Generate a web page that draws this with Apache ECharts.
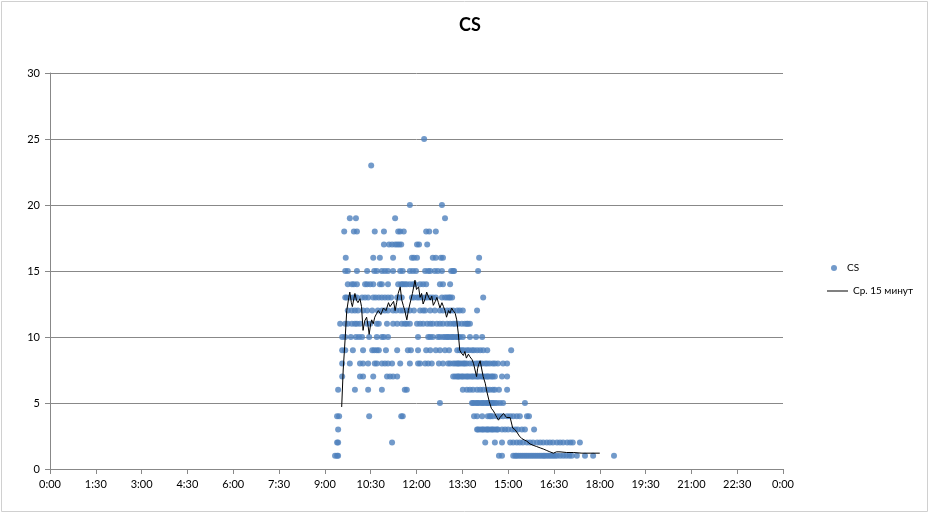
<!DOCTYPE html>
<html><head><meta charset="utf-8">
<script src="https://cdn.jsdelivr.net/npm/echarts@6/dist/echarts.min.js"></script>
<style>html,body{margin:0;padding:0;background:#fff}#c{width:930px;height:514px}</style>
</head><body><div id="c"></div>
<script>
// Scatter "CS": times (H:MM) at each integer value level
const t25 = ['12:15'];
const t23 = ['10:31'];
const t20 = ['11:47','12:50'];
const t19 = ['9:49','10:01','11:18','12:56'];
const t18 = ['9:38','9:57','10:03','10:38','10:56','11:24','11:28','11:35','12:19','12:25','12:38'];
const t17 = ['10:56','11:06','11:12','11:18','11:22','11:26','11:30','12:01','12:05','12:21'];
const t16 = ['9:41','10:35','10:48','11:14','11:51','11:55','12:01','12:32','12:38','12:48','12:52','14:03'];
const t15 = ['9:40','9:45','10:03','10:23','10:37','10:42','10:52','10:58','11:04','11:14','11:28','11:33','11:47','11:53','11:59','12:17','12:23','12:27','12:36','12:42','12:50','13:08','13:12','13:14','14:01'];
const t14 = ['9:45','9:53','9:57','10:03','10:19','10:23','10:29','10:35','10:48','10:52','11:04','11:24','11:30','11:33','11:37','11:41','11:47','11:53','11:57','12:07','12:13','12:19','12:46','12:52','13:06'];
const t13 = ['9:40','9:43','9:49','9:55','9:59','10:03','10:13','10:19','10:25','10:35','10:40','10:46','10:52','10:58','11:04','11:10','11:22','11:26','11:31','11:51','11:55','12:01','12:05','12:11','12:17','12:21','12:27','12:32','12:38','12:50','12:56','13:00','13:04','13:06','13:10','14:11'];
const t12 = ['9:45','9:53','9:59','10:05','10:15','10:23','10:33','10:44','10:52','10:58','11:04','11:14','11:20','11:28','11:33','11:41','11:47','11:55','12:07','12:13','12:17','12:27','12:36','12:46','12:52','13:00','13:06','13:12','13:20','13:25','13:31','13:59'];
const t11 = ['9:30','9:40','9:45','9:53','9:59','10:03','10:09','10:23','10:29','10:42','10:46','11:02','11:14','11:22','11:31','11:37','11:41','11:47','12:01','12:07','12:13','12:21','12:27','12:32','12:40','12:46','12:52','13:00','13:06','13:12','13:16','13:22','13:29','13:35','13:39','13:41','13:45'];
const t10 = ['9:34','9:40','9:51','10:01','10:07','10:13','10:27','10:42','10:52','10:56','11:04','12:03','12:23','12:27','12:32','12:42','12:46','12:52','12:56','13:00','13:02','13:06','13:10','13:12','13:16','13:20','13:22','13:25','13:31','13:45','13:57','14:09'];
const t9 = ['9:34','9:40','9:55','10:15','10:33','10:37','10:42','10:46','11:00','11:22','11:43','11:49','12:03','12:19','12:27','12:38','12:46','12:56','13:04','13:20','13:25','13:29','13:33','13:39','13:43','13:49','13:53','13:59','14:05','14:11','14:19','15:06'];
const t8 = ['9:34','9:49','10:09','10:15','10:25','10:38','10:42','10:52','10:58','11:04','11:12','11:28','11:47','12:03','12:07','12:17','12:23','12:30','12:44','12:52','13:02','13:06','13:12','13:16','13:20','13:22','13:25','13:29','13:33','13:35','13:39','13:45','13:51','13:57','14:01','14:05','14:09','14:15','14:19','14:24','14:30','14:34','14:40','14:50','14:58'];
const t7 = ['9:34','10:09','10:15','10:35','11:02','11:08','11:14','11:22','13:12','13:16','13:20','13:22','13:25','13:29','13:31','13:35','13:39','13:41','13:45','13:49','13:51','13:55','13:59','14:01','14:05','14:09','14:11','14:15','14:19','14:20','14:24','14:28','14:30','14:34','14:48','14:58'];
const t6 = ['9:26','9:59','10:25','10:52','11:37','11:41','13:31','13:39','13:45','13:51','13:59','14:05','14:11','14:19','14:24','14:30','14:34','14:42','14:58'];
const t5 = ['12:46','13:49','13:51','13:55','13:59','14:01','14:05','14:09','14:11','14:15','14:19','14:20','14:24','14:28','14:30','14:34','14:38','14:44','14:50','15:33'];
const t4 = ['9:24','9:28','10:27','11:30','11:33','13:53','13:59','14:09','14:20','14:24','14:26','14:30','14:38','14:44','14:50','14:58','15:04','15:10','15:17','15:23','15:37','15:41'];
const t3 = ['9:26','13:59','14:01','14:05','14:09','14:11','14:15','14:19','14:20','14:24','14:28','14:30','14:34','14:38','14:40','14:48','14:54','15:00','15:08','15:14','15:19','15:27','15:33','15:51'];
const t2 = ['9:24','9:26','11:12','14:15','14:34','14:48','15:04','15:10','15:17','15:23','15:29','15:37','15:43','15:49','15:57','16:03','16:09','16:16','16:22','16:28','16:36','16:42','16:48','16:56','17:02','17:07','17:21'];
const t1 = ['9:20','9:24','9:26','14:42','14:48','15:10','15:14','15:17','15:21','15:25','15:29','15:33','15:37','15:41','15:45','15:49','15:53','15:57','16:01','16:05','16:09','16:12','16:16','16:20','16:24','16:28','16:32','16:36','16:42','16:48','16:54','17:00','17:05','17:15','17:31','17:47','18:28'];
const levels = [1,2,3,4,5,6,7,8,9,10,11,12,13,14,15,16,17,18,19,20,23,25];
const levelTimes = [t1,t2,t3,t4,t5,t6,t7,t8,t9,t10,t11,t12,t13,t14,t15,t16,t17,t18,t19,t20,t23,t25];

// 15-minute moving average line
const avgTimes = ['9:33','9:36','9:40','9:43','9:47','9:49','9:52','9:54','9:57','9:59','10:02','10:05','10:09','10:12','10:15','10:18','10:22','10:25','10:27','10:30','10:32','10:35','10:38','10:42','10:45','10:50','10:55','11:00','11:05','11:08','11:11','11:15','11:18','11:21','11:24','11:28','11:31','11:34','11:37','11:41','11:44','11:47','11:52','11:57','12:00','12:04','12:07','12:10','12:13','12:17','12:20','12:24','12:27','12:30','12:33','12:37','12:40','12:43','12:46','12:50','12:53','12:56','12:59','13:03','13:06','13:09','13:12','13:16','13:19','13:22','13:25','13:28','13:32','13:35','13:38','13:42','13:45','13:49','13:52','13:55','13:58','14:00','14:02','14:05','14:08','14:11','14:15','14:18','14:23','14:27','14:31','14:34','14:38','14:41','14:44','14:47','14:51','14:54','14:57','15:00','15:04','15:09','15:13','15:17','15:22','15:27','15:32','15:37','15:43','15:49','15:56','16:03','16:10','16:16','16:22','16:29','16:35','16:42','16:55','17:08','17:25','17:41','18:00','18:25'];
const avgValues = [4.7,7.5,10,12,13.0,13.4,12.6,12.3,12.9,13.3,12.8,12.6,12.9,12.3,10.5,11.2,11.5,10.8,10.2,11.0,11.3,11.0,11.5,11.8,12,11.7,12.2,12.0,12.6,12.3,12.4,12.7,12,12.6,13.3,13.8,12.8,12.4,12,11.3,12.0,12.5,13.3,14.3,13.6,13.8,13,13.3,12.5,12.9,13.4,13.0,12.8,13.1,12.4,12.7,13,12.6,12.2,12.6,12.3,12.0,11.5,12.0,11.8,12.2,12,11.8,11.3,10.3,9,8.8,8.6,8.9,8.4,8.7,8.5,8.3,8,7.5,7,7.6,7.9,8.2,8.1,7,6.5,5.9,5.1,4.6,4.4,4.2,3.9,3.7,3.9,4,4.2,4.1,3.9,4,3.9,3.1,3.0,2.8,2.5,2.3,2.2,2.1,1.9,1.8,1.7,1.6,1.5,1.4,1.3,1.2,1.3,1.3,1.25,1.25,1.2,1.2,1.2];

const xTickStep = 90; // minutes (1:30)
const yTickStep = 5;

function toMin(s){const p=s.split(':');return (+p[0])*60+(+p[1]);}
function fmt(m){m=m%1440;const h=Math.floor(m/60),mm=m%60;return h+':'+(mm<10?'0':'')+mm;}

const scatterData=[];
levels.forEach((v,i)=>levelTimes[i].forEach(t=>scatterData.push([toMin(t),v])));
const lineData=avgTimes.map((t,i)=>[toMin(t),avgValues[i]]);

const FONT='Lato';
const chart=echarts.init(document.getElementById('c'),null,{renderer:'canvas'});
chart.setOption({
  animation:false,
  backgroundColor:'#fff',
  title:{text:'CS',left:465,top:11,textAlign:'center',textStyle:{fontFamily:FONT,fontSize:18,fontWeight:'bold',color:'#000'}},
  graphic:[{type:'rect',shape:{x:1.5,y:1.5,width:926,height:510},style:{fill:'none',stroke:'#d0d0d0',lineWidth:1},silent:true}],
  legend:[
    {left:826,top:258,itemWidth:16,itemHeight:6,itemGap:5,
     textStyle:{fontFamily:FONT,fontSize:10,color:'#000'},
     data:[{name:'CS',icon:'circle'}]},
    {left:822,top:281,itemWidth:21,itemHeight:1,
     textStyle:{fontFamily:FONT,fontSize:10,color:'#000'},
     data:[{name:'Ср. 15 минут',icon:'rect',itemStyle:{color:'#000'}}]}
  ],
  grid:{left:50,right:147,top:73,bottom:45,containLabel:false},
  xAxis:{type:'value',min:0,max:1440,interval:xTickStep,
    axisLine:{show:true,lineStyle:{color:'#888',width:1}},
    axisTick:{show:true,length:5,lineStyle:{color:'#888'}},
    splitLine:{show:false},
    axisLabel:{formatter:v=>fmt(v),fontFamily:FONT,fontSize:11,color:'#000',margin:10}},
  yAxis:{type:'value',min:0,max:30,interval:yTickStep,
    axisLine:{show:true,lineStyle:{color:'#888',width:1}},
    axisTick:{show:true,length:5,lineStyle:{color:'#888'}},
    splitLine:{show:true,lineStyle:{color:'#888',width:1}},
    axisLabel:{fontFamily:FONT,fontSize:11,color:'#000',margin:10}},
  series:[
    {name:'CS',type:'scatter',data:scatterData,symbol:'circle',symbolSize:6,itemStyle:{color:'#4F81BD'},z:2},
    {name:'Ср. 15 минут',type:'line',data:lineData,symbol:'none',showSymbol:false,lineStyle:{color:'#000',width:1},itemStyle:{color:'#000'},z:3}
  ]
});
</script></body></html>
